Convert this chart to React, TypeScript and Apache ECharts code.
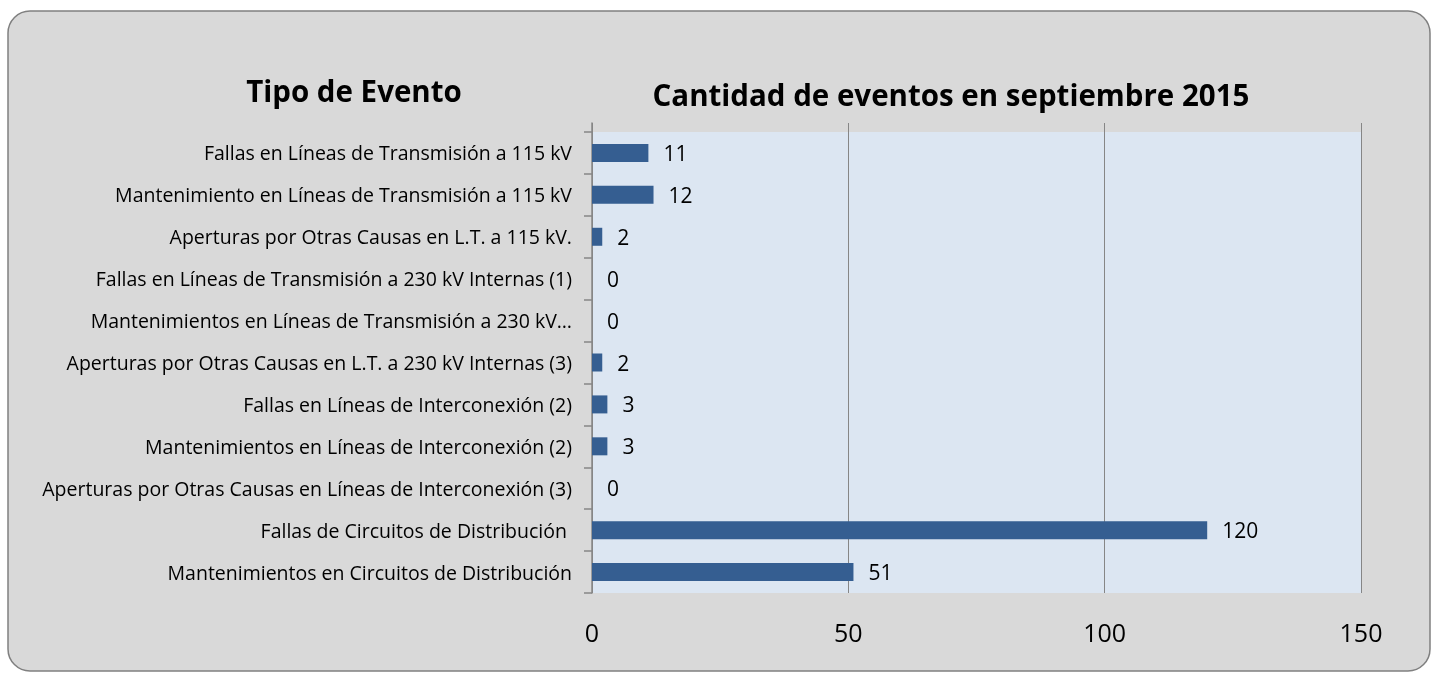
import React, { useEffect, useRef } from "react";
import * as echarts from "echarts";

const categories = [
  "Fallas en Líneas de Transmisión a 115 kV",
  "Mantenimiento en Líneas de Transmisión a 115 kV",
  "Aperturas por Otras Causas en L.T. a 115 kV.",
  "Fallas en Líneas de Transmisión a 230 kV Internas (1)",
  "Mantenimientos en Líneas de Transmisión a 230 kV…",
  "Aperturas por Otras Causas en L.T. a 230 kV Internas (3)",
  "Fallas en Líneas de Interconexión (2)",
  "Mantenimientos en Líneas de Interconexión (2)",
  "Aperturas por Otras Causas en Líneas de Interconexión (3)",
  "Fallas de Circuitos de Distribución ",
  "Mantenimientos en Circuitos de Distribución",
];
const values = [11, 12, 2, 0, 0, 2, 3, 3, 0, 120, 51];
const axisTicks = { min: 0, max: 150, interval: 50 };
const leftTitle = "Tipo de Evento";
const mainTitle = "Cantidad de eventos en septiembre 2015";

const FONT = "'Open Sans', 'Noto Sans', sans-serif";
const GRID_COLOR = "#868686";

export default function App() {
  const ref = useRef<HTMLDivElement>(null);
  useEffect(() => {
    if (!ref.current) return;
    const chart = echarts.init(ref.current, null, { renderer: "svg" });
    chart.setOption({
      animation: false,
      graphic: [
        {
          type: "rect",
          z: -10,
          silent: true,
          shape: { x: 8, y: 11, width: 1422, height: 660, r: 22 },
          style: { fill: "#d9d9d9", stroke: "#808080", lineWidth: 1.5 },
        },
        {
          type: "rect",
          z: -9,
          silent: true,
          shape: { x: 592, y: 132, width: 769, height: 461 },
          style: { fill: "#dce6f2" },
        },
        {
          type: "text",
          silent: true,
          style: {
            x: 354,
            y: 90,
            text: leftTitle,
            fontFamily: FONT,
            fontSize: 29.5,
            fontWeight: "bold",
            fill: "#000",
            align: "center",
            verticalAlign: "middle",
          },
        },
        {
          type: "text",
          silent: true,
          style: {
            x: 951,
            y: 94,
            text: mainTitle,
            fontFamily: FONT,
            fontSize: 29.5,
            fontWeight: "bold",
            fill: "#000",
            align: "center",
            verticalAlign: "middle",
          },
        },
      ],
      grid: [
        { left: 592, top: 132, width: 769, height: 461, borderWidth: 0 },
        { left: 592, top: 123, width: 769, height: 470, borderWidth: 0 },
      ],
      xAxis: [
        {
          type: "value",
          gridIndex: 0,
          min: axisTicks.min,
          max: axisTicks.max,
          interval: axisTicks.interval,
          axisLine: { show: false },
          axisTick: { show: false },
          axisLabel: { show: false },
          splitLine: { show: false },
        },
        {
          type: "value",
          gridIndex: 1,
          min: axisTicks.min,
          max: axisTicks.max,
          interval: axisTicks.interval,
          axisLine: { show: false },
          axisTick: { show: false },
          axisLabel: {
            color: "#000",
            fontSize: 25,
            fontFamily: FONT,
            margin: 26,
          },
          splitLine: { show: true, lineStyle: { color: GRID_COLOR, width: 1 } },
        },
      ],
      yAxis: [
        {
          type: "category",
          gridIndex: 0,
          data: categories,
          inverse: true,
          axisLine: { show: false },
          axisTick: { show: true, length: 8, lineStyle: { color: GRID_COLOR, width: 1.5 } },
          axisLabel: {
            color: "#000",
            fontSize: 19.5,
            fontFamily: FONT,
            margin: 20,
          },
        },
        {
          type: "value",
          gridIndex: 1,
          axisLine: { show: true, lineStyle: { color: GRID_COLOR, width: 1.5 } },
          axisTick: { show: false },
          axisLabel: { show: false },
          splitLine: { show: false },
        },
      ],
      series: [
        {
          type: "bar",
          xAxisIndex: 0,
          yAxisIndex: 0,
          data: values,
          barWidth: 18,
          itemStyle: { color: "#355e91", borderColor: "#4a78ad", borderWidth: 0 },
          label: {
            show: true,
            position: "right",
            distance: 15,
            color: "#000",
            fontSize: 21,
            fontFamily: FONT,
          },
        },
      ],
    });
    return () => chart.dispose();
  }, []);
  return (
    <div
      ref={ref}
      style={{ position: "fixed", left: 0, top: 0, width: 1434, height: 674 }}
    />
  );
}
